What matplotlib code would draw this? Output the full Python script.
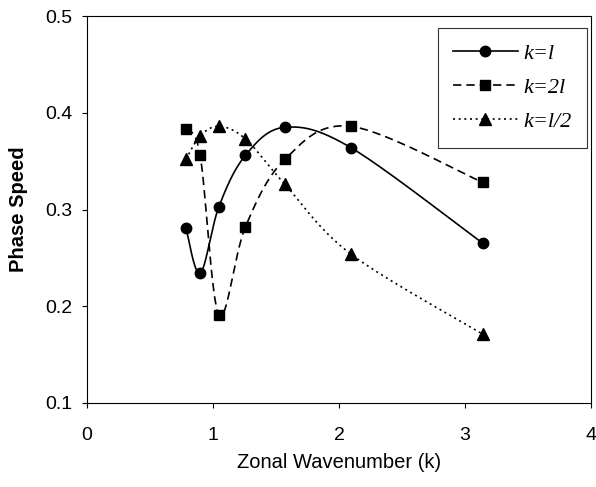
import numpy as np
import matplotlib
matplotlib.use("Agg")
import matplotlib.pyplot as plt

# Data
k_vals = [0.785, 0.898, 1.047, 1.257, 1.571, 2.094, 3.142]
c_k_eq_l = [0.281, 0.234, 0.303, 0.356, 0.385, 0.364, 0.265]
c_k_eq_2l = [0.383, 0.356, 0.191, 0.282, 0.352, 0.386, 0.328]
c_k_eq_half_l = [0.352, 0.376, 0.386, 0.373, 0.326, 0.254, 0.171]

series_labels = ["k=l", "k=2l", "k=l/2"]

x_ticks = [0, 1, 2, 3, 4]
y_ticks = [0.1, 0.2, 0.3, 0.4, 0.5]


def smooth(x, y, n=40):
    """Bezier smoothing through the given points (like a spreadsheet smoothed line)."""
    x = np.asarray(x, float)
    y = np.asarray(y, float)
    P = np.column_stack([x, y])
    pts = [P[0]]
    m = len(P)
    for i in range(m - 1):
        p0 = P[i - 1] if i > 0 else P[i]
        p1 = P[i]
        p2 = P[i + 1]
        p3 = P[i + 2] if i + 2 < m else P[i + 1]
        c1 = p1 + (p2 - p0) / 6.0
        c2 = p2 - (p3 - p1) / 6.0
        t = np.linspace(0, 1, n)[1:, None]
        b = ((1 - t) ** 3) * p1 + 3 * ((1 - t) ** 2) * t * c1 + 3 * (1 - t) * t ** 2 * c2 + t ** 3 * p2
        pts.extend(b)
    pts = np.array(pts)
    return pts[:, 0], pts[:, 1]


plt.rcParams['font.family'] = ['Liberation Sans', 'DejaVu Sans']

fig = plt.figure(figsize=(5.96, 4.87), dpi=100)
ax = fig.add_axes([0.146, 0.1725, 0.8456, 0.7945])

styles = [
    dict(ls='-', marker='o', ms=7.5),
    dict(ls=(0, (5, 3)), marker='s', ms=7.5),
    dict(ls=(0, (1.2, 2.2)), marker='^', ms=8.5),
]
series = [c_k_eq_l, c_k_eq_2l, c_k_eq_half_l]

for yvals, st, lab in zip(series, styles, series_labels):
    xs, ys = smooth(k_vals, yvals)
    ax.plot(xs, ys, color='black', lw=1.2, linestyle=st['ls'])
    ax.plot(k_vals, yvals, color='black', lw=0, marker=st['marker'], markersize=st['ms'])
    ax.plot([], [], color='black', lw=1.2, linestyle=st['ls'], marker=st['marker'],
            markersize=st['ms'], label=lab)

ax.set_xlim(0, 4)
ax.set_ylim(0.1, 0.5)
ax.set_xticks(x_ticks)
ax.set_xticklabels([str(v) for v in x_ticks])
ax.set_yticks(y_ticks)
ax.set_yticklabels([f"{v:.1f}" for v in y_ticks])
ax.tick_params(direction='out', length=3.6, width=0.8, labelsize=14)
ax.tick_params(axis='x', pad=14)
ax.tick_params(axis='y', pad=7)
for s in ax.spines.values():
    s.set_linewidth(0.8)

ax.set_xlabel("Zonal Wavenumber (k)", fontsize=14.5, labelpad=6)
ax.set_ylabel("Phase Speed", fontsize=14.5, fontweight='bold', labelpad=12)

leg = ax.legend(loc='upper right', bbox_to_anchor=(0.992, 0.969),
                prop={'family': 'Liberation Serif', 'style': 'italic', 'size': 16},
                frameon=True, fancybox=False, edgecolor='black', handlelength=2.9,
                borderpad=0.7, labelspacing=0.6, handletextpad=0.25,
                borderaxespad=0.0)
leg.get_frame().set_linewidth(0.8)

fig.savefig("out.png", dpi=100)
